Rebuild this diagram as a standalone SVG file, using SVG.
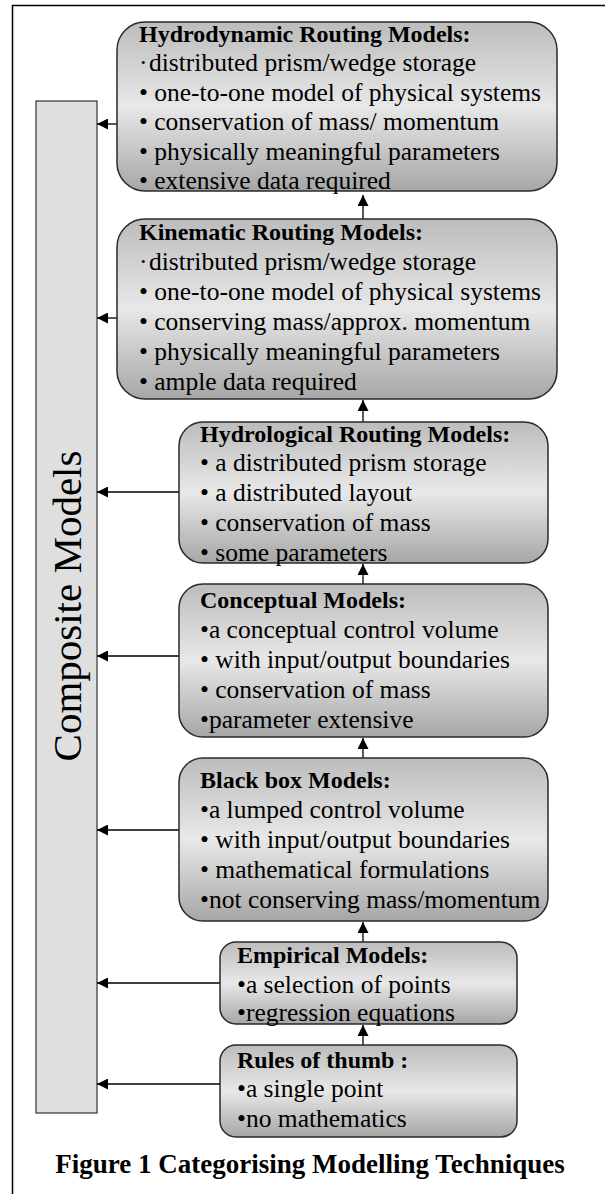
<svg xmlns="http://www.w3.org/2000/svg" width="605" height="1194" viewBox="0 0 605 1194">
<style>
.box{fill:url(#g);stroke:#2a2a2a;stroke-width:1.5}
.t{font-family:"Liberation Serif","Times New Roman",serif;font-size:25.5px;fill:#000}
.h{font-family:"Liberation Serif","Times New Roman",serif;font-size:24px;font-weight:bold;fill:#000}
.cap{font-family:"Liberation Serif","Times New Roman",serif;font-size:27px;font-weight:bold;fill:#000}
.c{stroke:#000;stroke-width:1.3;fill:none;marker-end:url(#ah)}
</style>
<defs>
<linearGradient id="g" x1="0" y1="0" x2="0" y2="1">
<stop offset="0" stop-color="#bcbcbc"/>
<stop offset="0.5" stop-color="#e8e8e8"/>
<stop offset="1" stop-color="#a6a6a6"/>
</linearGradient>
<marker id="ah" markerUnits="userSpaceOnUse" markerWidth="11" markerHeight="11" refX="11" refY="5.5" orient="auto">
<path d="M0,0 L11,5.5 L0,11 z" fill="#000"/>
</marker>
</defs>
<rect width="605" height="1194" fill="#fff"/>
<path d="M12.5,1194 V5.5 H605" fill="none" stroke="#000" stroke-width="1.5"/>
<g id="composite">
<rect x="36" y="101" width="61" height="1012" fill="#dfdfdf" stroke="#333" stroke-width="1.2"/>
<text transform="translate(81,606) rotate(-90)" text-anchor="middle" font-family="Liberation Serif, Times New Roman, serif" font-size="41">Composite Models</text>
</g>
<g id="connectors">
<line class="c" x1="117" y1="124" x2="97" y2="124"/>
<line class="c" x1="117" y1="318" x2="97" y2="318"/>
<line class="c" x1="179" y1="492" x2="97" y2="492"/>
<line class="c" x1="179" y1="656" x2="97" y2="656"/>
<line class="c" x1="179" y1="830" x2="97" y2="830"/>
<line class="c" x1="220" y1="983" x2="97" y2="983"/>
<line class="c" x1="220" y1="1084" x2="97" y2="1084"/>
<line class="c" x1="363" y1="220" x2="363" y2="195"/>
<line class="c" x1="363" y1="422" x2="363" y2="400"/>
<line class="c" x1="363" y1="584" x2="363" y2="564"/>
<line class="c" x1="363" y1="758" x2="363" y2="738"/>
<line class="c" x1="363" y1="942" x2="363" y2="922"/>
<line class="c" x1="363" y1="1045" x2="363" y2="1025"/>
</g>
<g id="hydrodynamic">
<rect class="box" x="117" y="22" width="440" height="169" rx="28"/>
<text class="h" x="139" y="42">Hydrodynamic Routing Models:</text>
<text class="t" x="139" y="71">·<tspan x="149">distributed prism/wedge storage</tspan></text>
<text class="t" x="139" y="100.5">• one-to-one model of physical systems</text>
<text class="t" x="139" y="130">• conservation of mass/ momentum</text>
<text class="t" x="139" y="159.5">• physically meaningful parameters</text>
<text class="t" x="139" y="189">• extensive data required</text>
</g>
<g id="kinematic">
<rect class="box" x="117" y="219" width="440" height="180" rx="28"/>
<text class="h" x="139" y="240">Kinematic Routing Models:</text>
<text class="t" x="139" y="270">·<tspan x="149">distributed prism/wedge storage</tspan></text>
<text class="t" x="139" y="300">• one-to-one model of physical systems</text>
<text class="t" x="139" y="330">• conserving mass/approx. momentum</text>
<text class="t" x="139" y="360">• physically meaningful parameters</text>
<text class="t" x="139" y="390">• ample data required</text>
</g>
<g id="hydrological">
<rect class="box" x="179" y="422" width="369" height="141" rx="24"/>
<text class="h" x="200" y="442">Hydrological Routing Models:</text>
<text class="t" x="200" y="471">• a distributed prism storage</text>
<text class="t" x="200" y="501">• a distributed layout</text>
<text class="t" x="200" y="531">• conservation of mass</text>
<text class="t" x="200" y="561">• some parameters</text>
</g>
<g id="conceptual">
<rect class="box" x="179" y="584" width="369" height="153" rx="24"/>
<text class="h" x="200" y="608">Conceptual Models:</text>
<text class="t" x="200" y="638">•a conceptual control volume</text>
<text class="t" x="200" y="668">• with input/output boundaries</text>
<text class="t" x="200" y="698">• conservation of mass</text>
<text class="t" x="200" y="728">•parameter extensive</text>
</g>
<g id="blackbox">
<rect class="box" x="179" y="758" width="369" height="163" rx="24"/>
<text class="h" x="200" y="788">Black box Models:</text>
<text class="t" x="200" y="818">•a lumped control volume</text>
<text class="t" x="200" y="848">• with input/output boundaries</text>
<text class="t" x="200" y="878">• mathematical formulations</text>
<text class="t" x="200" y="908">•not conserving mass/momentum</text>
</g>
<g id="empirical">
<rect class="box" x="220" y="942" width="297" height="82" rx="16"/>
<text class="h" x="237" y="963">Empirical Models:</text>
<text class="t" x="237" y="993">•a selection of points</text>
<text class="t" x="237" y="1021">•regression equations</text>
</g>
<g id="rules">
<rect class="box" x="220" y="1045" width="297" height="92" rx="16"/>
<text class="h" x="237" y="1068">Rules of thumb :</text>
<text class="t" x="237" y="1097">•a single point</text>
<text class="t" x="237" y="1127">•no mathematics</text>
</g>
<text class="cap" x="310" y="1173" text-anchor="middle">Figure 1 Categorising Modelling Techniques</text>
</svg>
